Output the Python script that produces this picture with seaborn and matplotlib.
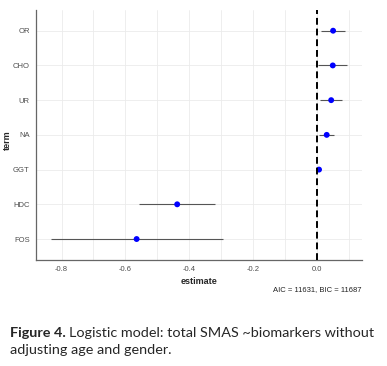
import numpy as np
import pandas as pd
import seaborn as sns
import matplotlib.pyplot as plt
from matplotlib.ticker import MultipleLocator

# coefficient estimates (top to bottom)
terms = ["OR", "CHO", "UR", "NA", "GGT", "HDC", "FOS"]
estimate = [0.050, 0.049, 0.044, 0.030, 0.006, -0.438, -0.565]
conf_low = [0.013, 0.002, 0.009, 0.007, 0.003, -0.558, -0.833]
conf_high = [0.087, 0.093, 0.077, 0.052, 0.009, -0.320, -0.296]

df = pd.DataFrame({"term": terms, "estimate": estimate,
                   "conf.low": conf_low, "conf.high": conf_high})
df = df.iloc[::-1].reset_index(drop=True)  # FOS at bottom

sns.set_style("white")
plt.rcParams['font.family'] = ['Liberation Sans', 'DejaVu Sans']

fig = plt.figure(figsize=(3.87, 3.66), dpi=100)
ax = fig.add_axes([0.093, 0.290, 0.842, 0.683])

ax.hlines(df["term"], df["conf.low"], df["conf.high"], color="#555555", lw=0.8, zorder=2)
sns.scatterplot(data=df, x="estimate", y="term", color="#0000ff", s=18,
                edgecolor="none", ax=ax, zorder=3)
ax.axvline(0, color="black", lw=1.4, ls=(0, (3.5, 2)), zorder=4)

ax.set_xlim(-0.88, 0.14)
ax.set_ylim(-0.6, len(terms) - 0.4)
ax.xaxis.set_major_locator(MultipleLocator(0.2))
ax.xaxis.set_minor_locator(MultipleLocator(0.1))
ax.set_xticklabels([f"{v:.1f}" for v in ax.get_xticks()])
ax.grid(True, which="major", color="#ebebeb", lw=0.6)
ax.grid(True, which="minor", axis="x", color="#ebebeb", lw=0.6)
ax.set_axisbelow(True)

for s in ["top", "right"]:
    ax.spines[s].set_visible(False)
for s in ["left", "bottom"]:
    ax.spines[s].set_color("#666666")
    ax.spines[s].set_linewidth(0.9)

ax.tick_params(axis="both", which="major", length=3, width=0.6, color="#666666",
               labelsize=5.5, labelcolor="#4d4d4d", pad=1.5)
ax.tick_params(axis="x", which="minor", length=0)
ax.set_xlabel("estimate", fontsize=6.5, fontweight="bold", labelpad=3)
ax.set_ylabel("term", fontsize=6.5, fontweight="bold", labelpad=3)
ax.yaxis.set_label_coords(-0.075, 0.48)

fig.text(0.935, 1 - 290 / 366, "AIC = 11631, BIC = 11687", ha="right", va="center",
         fontsize=5.5, color="#222222")

cap_font = ['Lato', 'DejaVu Sans']
cap_size = 10.4
t1 = fig.text(10 / 387, 1 - 333 / 366, "Figure 4.", fontsize=cap_size, fontweight="bold",
              family=cap_font, va="center")
fig.canvas.draw()
bb = t1.get_window_extent()
fig.text((bb.x1 + 3.5) / 387, 1 - 333 / 366, "Logistic model: total SMAS ~biomarkers without",
         fontsize=cap_size, family=cap_font, va="center")
fig.text(10 / 387, 1 - 350 / 366, "adjusting age and gender.", fontsize=cap_size,
         family=cap_font, va="center")

plt.savefig("out.png", dpi=100)
